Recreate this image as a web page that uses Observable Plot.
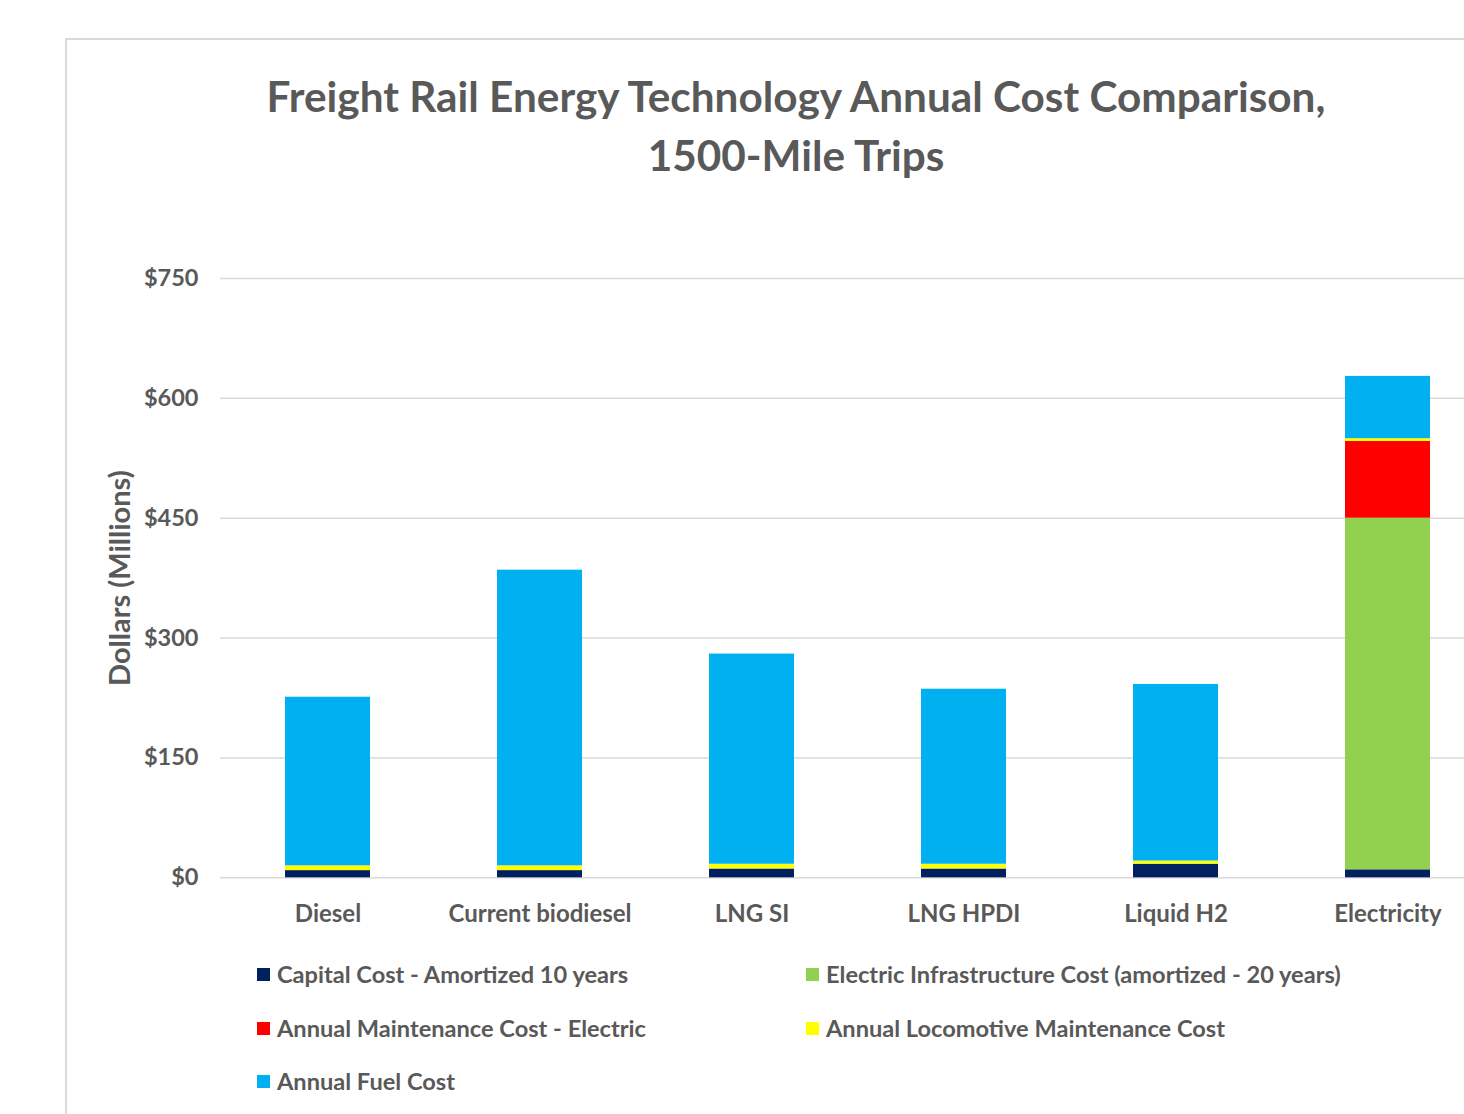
<!DOCTYPE html>
<html><head><meta charset="utf-8">
<script src="https://cdn.jsdelivr.net/npm/d3@7"></script>
<script src="https://cdn.jsdelivr.net/npm/@observablehq/plot@0.6"></script>
<style>
html,body{margin:0;padding:0;width:1464px;height:1114px;overflow:hidden;background:#fff;font-family:Lato,"Open Sans",sans-serif;}
#frame{position:absolute;left:65px;top:38px;width:1500px;height:1200px;border:2px solid #d9d9d9;box-sizing:border-box;}
#title{position:absolute;left:0;width:1592px;top:66px;text-align:center;font-weight:700;font-size:42.3px;line-height:59px;color:#595959;}
#chart{position:absolute;left:0;top:250px;width:1510px;}
#chart svg{max-width:none;}
#legend{position:absolute;left:257px;top:960px;color:#595959;font-size:23.6px;font-weight:700;}
.item{position:absolute;white-space:nowrap;display:flex;align-items:center;}
.sw{width:13px;height:13px;margin-right:7px;display:inline-block;}
</style></head>
<body>
<div id="frame"></div>
<div id="title">Freight Rail Energy Technology Annual Cost Comparison,<br>1500-Mile Trips</div>
<div id="chart"></div>
<div id="legend"></div>
<script>
const categories = ["Diesel", "Current biodiesel", "LNG SI", "LNG HPDI", "Liquid H2", "Electricity"];
const seriesNames = [
  "Capital Cost - Amortized 10 years",
  "Electric Infrastructure Cost (amortized - 20 years)",
  "Annual Maintenance Cost - Electric",
  "Annual Locomotive Maintenance Cost",
  "Annual Fuel Cost"
];
const seriesColors = ["#002060", "#92D050", "#FF0000", "#FFFF00", "#00B0F0"];
const capitalCost = [9, 9, 11, 11, 17, 10];
const infraCost = [0, 0, 0, 0, 0, 440];
const maintElectric = [0, 0, 0, 0, 0, 96];
const locoMaint = [6, 6, 6, 6, 4, 3.5];
const fuelCost = [211, 370, 263, 219, 221, 78];
const yTicks = [0, 150, 300, 450, 600, 750];

const seriesValues = [capitalCost, infraCost, maintElectric, locoMaint, fuelCost];
const data = [];
seriesNames.forEach((s, i) => categories.forEach((c, j) => data.push({category: c, series: s, value: seriesValues[i][j]})));

const chart = Plot.plot({
  width: 1510,
  height: 700,
  marginLeft: 220,
  marginRight: 15,
  marginTop: 28,
  marginBottom: 72.7,
  style: {fontFamily: "Lato, 'Open Sans', sans-serif", color: "#595959", background: "transparent", overflow: "visible", maxWidth: "none"},
  x: {domain: categories, paddingInner: 0.6, paddingOuter: 0.3, label: null},
  y: {domain: [0, 750], label: null},
  color: {domain: seriesNames, range: seriesColors},
  marks: [
    Plot.gridY(yTicks, {stroke: "#d9d9d9", strokeOpacity: 1, strokeWidth: 1.5}),
    Plot.barY(data, {x: "category", y: "value", fill: "series", order: seriesNames}),
    Plot.axisY(yTicks, {tickSize: 0, tickPadding: 22, tickFormat: d => "$" + d, fontSize: 23.5, fontWeight: 700, fill: "#595959", label: null}),
    Plot.axisX({tickSize: 0, tickPadding: 27, fontSize: 24, fontWeight: 700, fill: "#595959", label: null}),
    Plot.text(["Dollars (Millions)"], {frameAnchor: "left", dx: -100, rotate: -90, textAnchor: "middle", fontSize: 29, fontWeight: 700, fill: "#595959"})
  ]
});
document.getElementById("chart").appendChild(chart);

const legend = document.getElementById("legend");
const pos = [[0,0],[549,0],[0,54],[549,54],[0,107]];
seriesNames.forEach((s, i) => {
  const d = document.createElement("div");
  d.className = "item";
  d.style.left = pos[i][0] + "px";
  d.style.top = pos[i][1] + "px";
  d.innerHTML = `<span class="sw" style="background:${seriesColors[i]}"></span><span>${s}</span>`;
  legend.appendChild(d);
});
</script>
</body></html>
